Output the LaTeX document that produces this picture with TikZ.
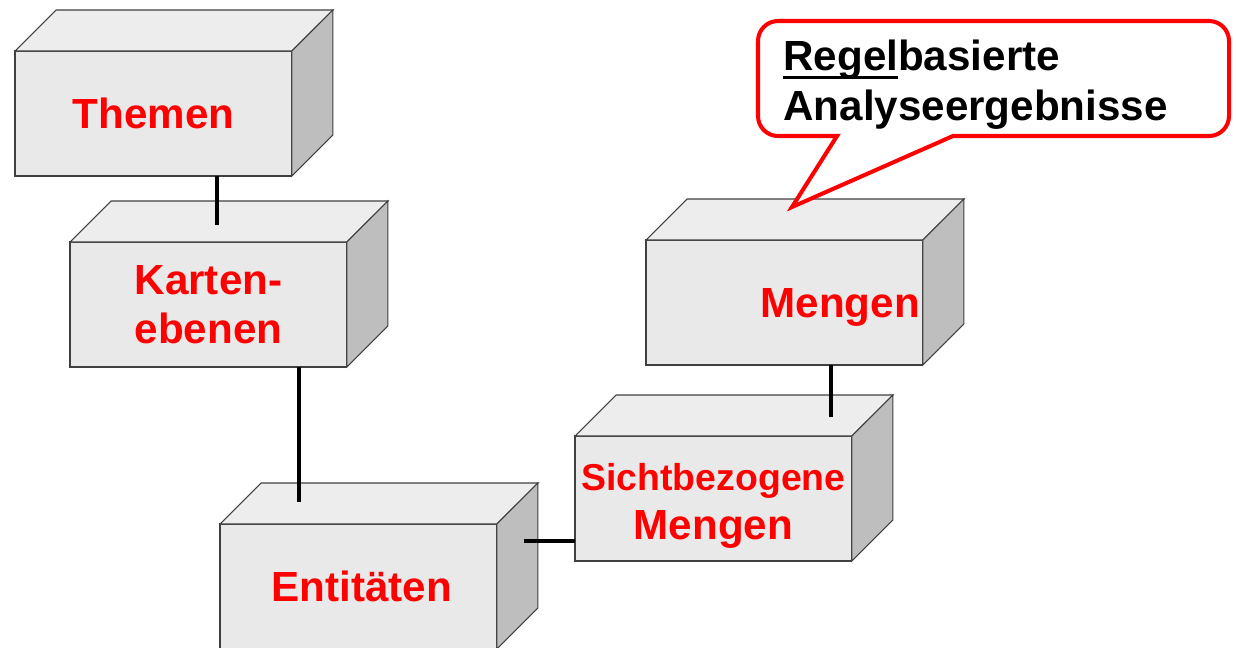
\documentclass[tikz,border=0pt]{standalone}
\usepackage{fontspec}
\setmainfont{Liberation Sans}
\usetikzlibrary{positioning}

\definecolor{frontgray}{RGB}{233,233,233}
\definecolor{topgray}{RGB}{237,237,237}
\definecolor{sidegray}{RGB}{190,190,190}
\definecolor{labelred}{RGB}{255,0,0}

% top and side face of a box, hung on the front node
\newcommand{\quaderfaces}[1]{%
  \draw[face,fill=topgray] (#1.north west) -- ++(41,-41) -- ++(277,0) -- (#1.north east) -- cycle;
  \draw[face,fill=sidegray] (#1.north east) -- ++(41,-41) -- ++(0,125) -- (#1.south east) -- cycle;
}
\newcommand{\ulregel}[1]{\setbox0=\hbox{#1}\rlap{\rule[-0.19em]{\wd0}{0.07em}}\box0}

\begin{document}
\begin{tikzpicture}[x=0.02cm,y=-0.02cm,
    face/.style={draw=black!75,line width=0.6pt,line join=miter},
    quader/.style={face,fill=frontgray,anchor=north west,minimum width=5.54cm,
      minimum height=2.5cm,inner sep=0pt,outer sep=0pt,align=center,text=labelred,
      text depth=0pt,font=\bfseries\fontsize{24}{28}\selectfont},
    link/.style={line width=2.6pt,draw=black},
    callout/.style={draw=labelred,line width=2.3pt,fill=white,line join=miter}]
  \useasboundingbox (0,0) rectangle (1236,647);

  % boxes
  \node[quader] (themen) at (15,51) {Themen};
  \quaderfaces{themen}
  \node[quader] (karten) at (70,242) {Karten-\\ebenen};
  \quaderfaces{karten}
  \node[quader] (entitaeten) at (220,524) {\hspace{0.14cm}Entitäten};
  \quaderfaces{entitaeten}
  \node[quader,text height=47pt] (sicht) at (575,436)
    {{\fontsize{21.3}{28}\selectfont Sichtbezogene}\\Mengen};
  \quaderfaces{sicht}
  \node[quader,align=right,text width=5.42cm] (mengen) at (646,240) {Mengen};
  \quaderfaces{mengen}

  % connectors
  \coordinate (karten-top) at (217,225);
  \draw[link] (themen.south -| karten-top) -- (karten-top);
  \coordinate (entitaeten-top) at (299,502);
  \draw[link] (karten.south -| entitaeten-top) -- (entitaeten-top);
  \coordinate (entitaeten-side) at (524,541);
  \draw[link] (entitaeten-side) -- (sicht.west |- entitaeten-side);
  \coordinate (sicht-top) at (831,417);
  \draw[link] (mengen.south -| sicht-top) -- (sicht-top);

  % callout
  \draw[callout] (837,136) -- (792,207) -- (953,136) [rounded corners=0.4cm] -- (1229,136)
    -- (1229,21) -- (758,21) -- (758,136) [sharp corners] -- (837,136) -- cycle;
  \node[anchor=west,align=left,inner sep=0pt,
    font=\bfseries\fontsize{24}{28.45}\selectfont] (hinweis) at (783,85)
    {\ulregel{Regel}basierte\\Analyseergebnisse};
\end{tikzpicture}
\end{document}
